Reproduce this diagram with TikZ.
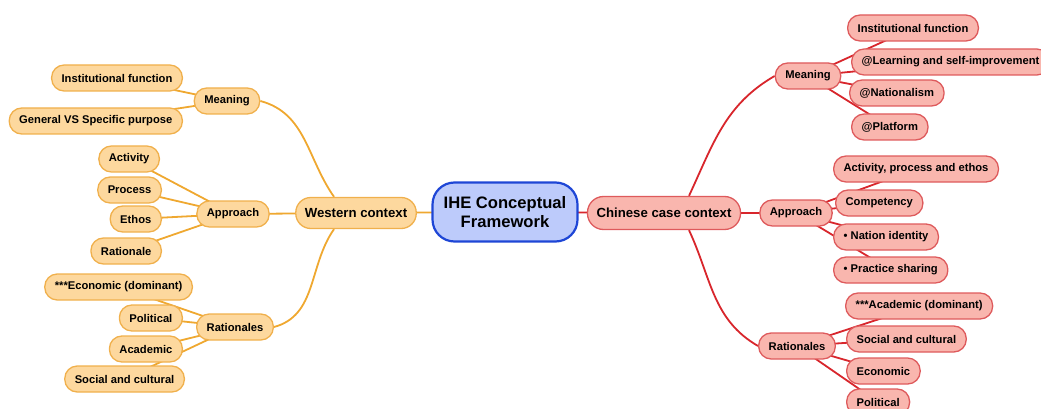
\documentclass[tikz,border=0pt]{standalone}
\usepackage{fontspec}
\setmainfont{Liberation Sans}
\usetikzlibrary{backgrounds}
\definecolor{ofill}{HTML}{FDD89E}
\definecolor{odraw}{HTML}{F0B04C}
\definecolor{oline}{HTML}{EFA830}
\definecolor{rfill}{HTML}{F9B6AE}
\definecolor{rdraw}{HTML}{DE5A5C}
\definecolor{rline}{HTML}{D8262C}
\definecolor{bfill}{HTML}{BDCBFB}
\definecolor{bdraw}{HTML}{1E46D6}
\tikzset{
  box/.style={rectangle, rounded corners=12.5pt, line width=1.3pt,
    font=\bfseries\fontsize{11.2}{13}\selectfont, minimum height=26pt,
    inner xsep=10pt, inner ysep=2pt},
  wbox/.style={box, fill=ofill, draw=odraw},
  rbox/.style={box, fill=rfill, draw=rdraw},
  wleaf/.style={wbox, anchor=east},
  rleaf/.style={rbox, anchor=west},
  wmain/.style={wbox, font=\bfseries\fontsize{13.2}{15}\selectfont, minimum height=31pt, rounded corners=15pt, inner xsep=9pt},
  rmain/.style={rbox, font=\bfseries\fontsize{13.2}{15}\selectfont, minimum height=33pt, rounded corners=16pt, inner xsep=9pt},
  core/.style={rectangle, rounded corners=22pt, fill=bfill, draw=bdraw, line width=2.2pt,
    font=\bfseries\fontsize{16.6}{19}\selectfont, align=center, minimum width=145pt, minimum height=59pt},
  wlink/.style={draw=oline, line width=1.8pt},
  rlink/.style={draw=rline, line width=1.8pt},
}
\begin{document}
\begin{tikzpicture}[x=1pt,y=1pt]
\useasboundingbox (0,0) rectangle (1041,-409);

% centre
\node[core] (ihe) at (505,-212) {IHE Conceptual\\Framework};

% western branch
\node[wmain] (wc) at (356,-213) {Western context};
\node[wbox] (wmean) at (227,-101) {Meaning};
\node[wbox] (wappr) at (233,-214) {Approach};
\node[wbox] (wrat) at (235,-327) {Rationales};

\node[wleaf] (w1) at (183,-78) {Institutional function};
\node[wleaf] (w2) at (183,-121) {General VS Specific purpose};
\node[wleaf] (w3) at (160,-159) {Activity};
\node[wleaf] (w4) at (162,-190) {Process};
\node[wleaf] (w5) at (162,-219) {Ethos};
\node[wleaf] (w6) at (162,-251) {Rationale};
\node[wleaf] (w7) at (193,-287) {***Economic (dominant)};
\node[wleaf] (w8) at (183,-318) {Political};
\node[wleaf] (w9) at (183,-349) {Academic};
\node[wleaf] (w10) at (185,-379) {Social and cultural};

% chinese branch
\node[rmain] (cc) at (664,-213) {Chinese case context};
\node[rbox] (cmean) at (808,-76) {Meaning};
\node[rbox] (cappr) at (796,-213) {Approach};
\node[rbox] (crat) at (797,-346) {Rationales};

\node[rleaf] (c1) at (847,-28) {Institutional function};
\node[rleaf] (c2) at (851,-62) {@Learning and self-improvement};
\node[rleaf] (c3) at (849,-93) {@Nationalism};
\node[rleaf] (c4) at (851,-127) {@Platform};
\node[rleaf] (c5) at (833,-169) {Activity, process and ethos};
\node[rleaf] (c6) at (835,-203) {Competency};
\node[rleaf] (c7) at (833,-237) {• Nation identity};
\node[rleaf] (c8) at (833,-270) {• Practice sharing};
\node[rleaf] (c9) at (845,-306) {***Academic (dominant)};
\node[rleaf] (c10) at (846,-339) {Social and cultural};
\node[rleaf] (c11) at (846,-371) {Economic};
\node[rleaf] (c12) at (846,-402) {Political};

% connectors run behind the boxes, from centre to centre
\begin{scope}[on background layer]
  % western connectors
  \draw[wlink] (ihe.center) -- (wc.center);
  \draw[wlink] (wappr.center) -- (wc.center);
  \draw[wlink] (wmean.east) to[out=-15, in=125] ([xshift=-22pt]wc.north);
  \draw[wlink] (wrat.east) to[out=15, in=-125] ([xshift=-22pt]wc.south);
  \foreach \n in {w1,w2} \draw[wlink] (wmean.center) -- (\n.center);
  \foreach \n in {w3,w4,w5,w6} \draw[wlink] (wappr.center) -- (\n.center);
  \foreach \n in {w7,w8,w9,w10} \draw[wlink] (wrat.center) -- (\n.center);
  % chinese connectors
  \draw[rlink] (ihe.center) -- (cc.center);
  \draw[rlink] (cc.center) -- (cappr.center);
  \draw[rlink] ([xshift=25pt]cc.north) to[out=65, in=210] (cmean.west);
  \draw[rlink] ([xshift=25pt]cc.south) to[out=-65, in=150] (crat.west);
  \foreach \n in {c1,c2,c3,c4} \draw[rlink] (cmean.center) -- (\n.center);
  \foreach \n in {c5,c6,c7,c8} \draw[rlink] (cappr.center) -- (\n.center);
  \foreach \n in {c9,c10,c11,c12} \draw[rlink] (crat.center) -- (\n.center);
\end{scope}
\end{tikzpicture}
\end{document}
